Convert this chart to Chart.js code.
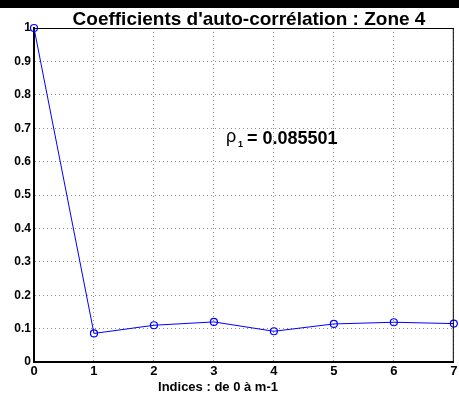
<!DOCTYPE html>
<html>
<head>
<meta charset="utf-8">
<script src="https://cdn.jsdelivr.net/npm/chart.js@4/dist/chart.umd.min.js"></script>
<style>
  html, body { margin: 0; padding: 0; background: #fff; }
  #wrap { width: 459px; height: 394px; }
</style>
</head>
<body>
<div id="wrap"><canvas id="acf"></canvas></div>
<script>
var lags = [0, 1, 2, 3, 4, 5, 6, 7];
var coeffs = [1, 0.085501, 0.110, 0.120, 0.092, 0.114, 0.119, 0.115];
var xTicks = [0, 1, 2, 3, 4, 5, 6, 7];
var yTicks = [0, 0.1, 0.2, 0.3, 0.4, 0.5, 0.6, 0.7, 0.8, 0.9, 1];

var FONT = "'Liberation Sans', Arial, sans-serif";

function tickText(v) { return String(+(+v).toFixed(1)); }

// title, top bar, frame and the rho_1 note
var decor = {
    id: 'decor',
    beforeDraw: function (chart) {
        var c = chart.ctx;
        c.save();
        c.fillStyle = '#fff';
        c.fillRect(0, 0, chart.width, chart.height);
        c.fillStyle = '#000';
        c.fillRect(0, 0, chart.width, 8);
        c.restore();
    },
    afterDraw: function (chart) {
        var c = chart.ctx, a = chart.chartArea;
        c.save();
        c.strokeStyle = '#000';
        c.lineWidth = 1;
        c.beginPath();
        c.moveTo(a.left, a.top + 0.5);
        c.lineTo(a.right, a.top + 0.5);
        c.moveTo(a.right - 0.5, a.top);
        c.lineTo(a.right - 0.5, a.bottom);
        c.stroke();

        c.fillStyle = '#000';
        c.textBaseline = 'alphabetic';
        c.textAlign = 'center';
        c.font = 'bold 19px ' + FONT;
        c.fillText("Coefficients d'auto-corrélation : Zone 4", 249, 25);

        c.font = 'bold 13px ' + FONT;
        c.fillText('Indices : de 0 à m-1', 218, 391);

        c.textAlign = 'left';
        c.font = '18px ' + FONT;
        c.fillText('ρ', 226, 142);
        c.font = 'bold 9px ' + FONT;
        c.fillText('1', 238, 147);
        c.font = 'bold 18px ' + FONT;
        c.fillText('= ' + coeffs[1], 247, 144);
        c.restore();
    }
};

new Chart(document.getElementById('acf'), {
    type: 'line',
    data: {
        datasets: [{
            data: lags.map(function (l, i) { return { x: l, y: coeffs[i] }; }),
            borderColor: '#0000ff',
            borderWidth: 1,
            pointRadius: 3.5,
            pointBorderWidth: 1.2,
            pointBorderColor: '#0000ff',
            pointBackgroundColor: 'rgba(0,0,0,0)',
            tension: 0,
            clip: false
        }]
    },
    options: {
        responsive: true,
        maintainAspectRatio: false,
        animation: false,
        layout: { padding: { top: 28, right: 0, left: 0, bottom: 0 } },
        plugins: { legend: { display: false }, title: { display: false }, tooltip: { enabled: false } },
        scales: {
            x: {
                type: 'linear', min: 0, max: 7,
                afterBuildTicks: function (s) { s.ticks = xTicks.map(function (v) { return { value: v }; }); },
                afterFit: function (s) { s.height = 32; s.paddingRight = 0; s.paddingLeft = 0; },
                grid: { color: 'rgba(0,0,0,0.45)', lineWidth: 1, drawTicks: false },
                border: { display: true, color: '#000', width: 2, dash: [1, 3] },
                ticks: { color: '#000', padding: 2, maxRotation: 0, callback: tickText, font: { family: FONT, size: 13, weight: 'bold' } }
            },
            y: {
                min: 0, max: 1,
                afterBuildTicks: function (s) { s.ticks = yTicks.map(function (v) { return { value: v }; }); },
                afterFit: function (s) { s.width = 34; },
                grid: { color: 'rgba(0,0,0,0.45)', lineWidth: 1, drawTicks: false },
                border: { display: true, color: '#000', width: 2, dash: [1, 3] },
                ticks: { color: '#000', padding: 3, callback: tickText, font: { family: FONT, size: 12, weight: 'bold' } }
            }
        }
    },
    plugins: [decor]
});
</script>
</body>
</html>
